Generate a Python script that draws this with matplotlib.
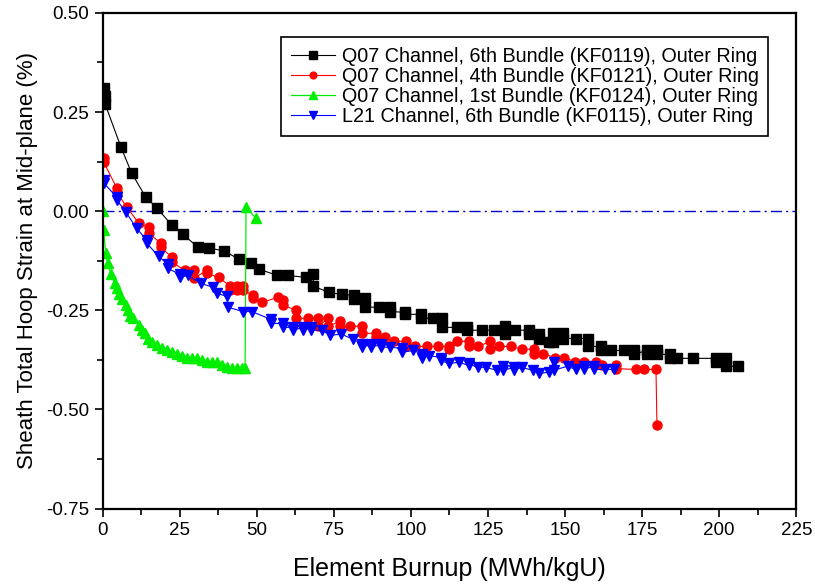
import matplotlib
matplotlib.use('Agg')
import matplotlib.pyplot as plt
from matplotlib.ticker import MultipleLocator

plt.rcParams['font.family'] = ['Liberation Sans', 'DejaVu Sans']

# Q07 Channel, 6th Bundle (KF0119)
x_kf0119 = [0.3, 0.6, 0.8, 5.9, 9.4, 14.0, 17.6, 22.4, 26.0, 30.9, 34.5, 39.3, 44.2, 48.1, 50.7,
            56.6, 60.1, 66.0, 68.3, 68.3, 73.5, 77.7, 81.6, 81.6, 85.2, 85.2, 89.7, 93.3, 93.3,
            98.2, 98.2, 103.4, 103.4, 107.0, 110.2, 110.2, 114.8, 118.3, 118.3, 122.9, 127.1,
            130.4, 130.4, 133.9, 138.2, 138.2, 141.4, 141.4, 144.7, 146.0, 146.0, 149.2, 149.2,
            153.4, 157.3, 157.3, 161.6, 161.6, 164.8, 169.1, 172.3, 172.3, 176.5, 176.5, 179.8,
            179.8, 184.0, 184.0, 186.3, 191.5, 199.0, 199.0, 202.2, 202.2, 206.1]
y_kf0119 = [0.31, 0.29, 0.27, 0.162, 0.096, 0.035, 0.008, -0.035, -0.058, -0.091, -0.093, -0.10,
            -0.121, -0.131, -0.146, -0.162, -0.162, -0.167, -0.159, -0.189, -0.205, -0.21, -0.212,
            -0.222, -0.22, -0.242, -0.242, -0.242, -0.253, -0.255, -0.26, -0.26, -0.27, -0.27,
            -0.27, -0.293, -0.293, -0.293, -0.30, -0.30, -0.30, -0.29, -0.31, -0.30, -0.30, -0.31,
            -0.31, -0.321, -0.331, -0.308, -0.331, -0.308, -0.321, -0.321, -0.321, -0.341, -0.341,
            -0.351, -0.351, -0.351, -0.351, -0.361, -0.351, -0.361, -0.351, -0.361, -0.361,
            -0.371, -0.371, -0.371, -0.371, -0.381, -0.371, -0.391, -0.391]

# Q07 Channel, 4th Bundle (KF0121)
x_kf0121 = [0.3, 0.3, 4.6, 4.6, 7.8, 11.7, 15.0, 15.0, 18.9, 18.9, 22.4, 22.4, 26.7, 29.6, 29.6,
            33.8, 33.8, 37.7, 41.3, 41.3, 43.6, 43.6, 45.5, 45.5, 48.8, 48.8, 51.7, 56.9, 58.5,
            58.5, 62.7, 62.7, 66.6, 69.9, 69.9, 73.1, 73.1, 77.0, 77.0, 80.3, 84.2, 84.2, 88.8,
            88.8, 91.7, 94.6, 98.5, 98.5, 101.4, 105.3, 108.9, 112.2, 112.2, 115.1, 118.7, 118.7,
            121.9, 125.8, 125.8, 128.7, 132.6, 135.9, 139.8, 139.8, 142.7, 146.6, 149.5, 153.1,
            156.0, 159.9, 161.9, 166.4, 166.4, 173.0, 175.6, 179.5, 179.8]
y_kf0121 = [0.134, 0.124, 0.058, 0.048, 0.01, -0.03, -0.04, -0.056, -0.081, -0.091, -0.116, -0.129,
            -0.149, -0.149, -0.169, -0.149, -0.157, -0.167, -0.189, -0.199, -0.189, -0.199,
            -0.189, -0.199, -0.212, -0.22, -0.23, -0.217, -0.225, -0.237, -0.25, -0.27, -0.27,
            -0.27, -0.29, -0.27, -0.29, -0.278, -0.29, -0.29, -0.29, -0.308, -0.308, -0.318,
            -0.318, -0.328, -0.328, -0.341, -0.341, -0.341, -0.341, -0.341, -0.348, -0.328,
            -0.328, -0.341, -0.341, -0.328, -0.348, -0.341, -0.341, -0.348, -0.348, -0.361,
            -0.359, -0.369, -0.369, -0.379, -0.379, -0.379, -0.389, -0.389, -0.397, -0.399,
            -0.399, -0.399, -0.538]

# Q07 Channel, 1st Bundle (KF0124)
x_kf0124 = [0, 0.3, 1.0, 1.6, 2.6, 3.9, 4.6, 5.2, 6.2, 7.5, 8.1, 8.8, 9.8, 11.7, 12.7, 13.7, 14.6,
            15.9, 17.6, 19.2, 20.8, 22.4, 24.1, 25.7, 27.3, 28.9, 30.6, 32.2, 33.8, 35.4, 37.1,
            38.7, 40.3, 41.9, 43.6, 45.2, 46.2, 46.5, 49.7]
y_kf0124 = [0.0, -0.048, -0.106, -0.131, -0.159, -0.182, -0.194, -0.21, -0.222, -0.237, -0.25,
            -0.263, -0.27, -0.288, -0.30, -0.308, -0.321, -0.331, -0.338, -0.346, -0.351, -0.356,
            -0.359, -0.364, -0.369, -0.371, -0.371, -0.376, -0.379, -0.379, -0.381, -0.389,
            -0.394, -0.396, -0.396, -0.396, -0.396, 0.01, -0.018]

# L21 Channel, 6th Bundle (KF0115)
x_kf0115 = [0.3, 0.5, 4.6, 4.6, 7.5, 11.0, 14.3, 14.3, 18.2, 21.1, 21.1, 25.0, 25.0, 27.6, 31.9,
            35.8, 37.1, 40.3, 40.6, 45.5, 48.4, 54.6, 54.6, 58.5, 58.5, 61.8, 61.8, 65.0, 65.0,
            67.6, 67.6, 71.2, 73.8, 77.4, 81.3, 84.2, 84.2, 87.1, 87.1, 90.4, 90.4, 93.3, 97.2,
            97.2, 100.8, 103.7, 103.7, 106.0, 109.6, 109.6, 112.2, 115.7, 118.7, 118.7, 121.6,
            124.5, 127.8, 130.0, 130.0, 133.3, 133.3, 135.9, 139.5, 141.7, 144.7, 146.3, 146.3,
            150.8, 153.4, 156.0, 156.0, 159.3, 159.3, 162.9, 165.8]
y_kf0115 = [0.078, 0.07, 0.035, 0.028, -0.002, -0.043, -0.073, -0.081, -0.114, -0.134, -0.144,
            -0.159, -0.167, -0.162, -0.182, -0.192, -0.207, -0.215, -0.242, -0.253, -0.253,
            -0.273, -0.283, -0.283, -0.293, -0.293, -0.30, -0.293, -0.30, -0.293, -0.30, -0.30,
            -0.313, -0.31, -0.323, -0.336, -0.343, -0.336, -0.343, -0.336, -0.343, -0.343,
            -0.346, -0.356, -0.351, -0.361, -0.369, -0.364, -0.369, -0.376, -0.384, -0.381,
            -0.389, -0.384, -0.394, -0.394, -0.401, -0.391, -0.401, -0.394, -0.401, -0.394,
            -0.401, -0.409, -0.406, -0.381, -0.401, -0.391, -0.399, -0.391, -0.399, -0.391,
            -0.399, -0.399, -0.399]

labels = ['Q07 Channel, 6th Bundle (KF0119), Outer Ring',
          'Q07 Channel, 4th Bundle (KF0121), Outer Ring',
          'Q07 Channel, 1st Bundle (KF0124), Outer Ring',
          'L21 Channel, 6th Bundle (KF0115), Outer Ring']

fig = plt.figure(figsize=(8.15, 5.86), dpi=100)
ax = fig.add_axes([0.126, 0.132, 0.851, 0.846])

ax.axhline(0, color='#0000cc', lw=1.0, ls='-.', dashes=(8, 3, 1.5, 3), zorder=1)

ax.plot(x_kf0119, y_kf0119, color='black', lw=0.8, marker='s', ms=7, label=labels[0])
ax.plot(x_kf0121, y_kf0121, color='red', lw=0.8, marker='o', ms=6.5, label=labels[1])
ax.plot(x_kf0124, y_kf0124, color='#00ee00', lw=0.9, marker='^', ms=7, label=labels[2])
ax.plot(x_kf0115, y_kf0115, color='blue', lw=0.8, marker='v', ms=7.5, label=labels[3])

ax.set_xlim(0, 225)
ax.set_ylim(-0.75, 0.5)
ax.xaxis.set_major_locator(MultipleLocator(25))
ax.xaxis.set_minor_locator(MultipleLocator(12.5))
ax.yaxis.set_major_locator(MultipleLocator(0.25))
ax.yaxis.set_minor_locator(MultipleLocator(0.125))
ax.set_yticks([0.5, 0.25, 0.0, -0.25, -0.5, -0.75])
ax.set_yticklabels(['0.50', '0.25', '0.00', '-0.25', '-0.50', '-0.75'])
ax.tick_params(which='major', direction='out', length=6, width=1.2, labelsize=13.5)
ax.tick_params(which='minor', direction='out', length=4, width=1.2)
for s in ax.spines.values():
    s.set_linewidth(1.6)

ax.set_xlabel('Element Burnup (MWh/kgU)', fontsize=18, labelpad=13)
ax.set_ylabel('Sheath Total Hoop Strain at Mid-plane (%)', fontsize=16, labelpad=6)

leg = ax.legend(loc='upper right', bbox_to_anchor=(0.974, 0.971), fontsize=14.2,
                frameon=True, fancybox=False, edgecolor='black', framealpha=1,
                handlelength=2.2, handletextpad=0.35, borderpad=0.5, labelspacing=0.05,
                markerscale=0.75)
leg.get_frame().set_linewidth(1.2)

fig.savefig('out.png', dpi=100)
